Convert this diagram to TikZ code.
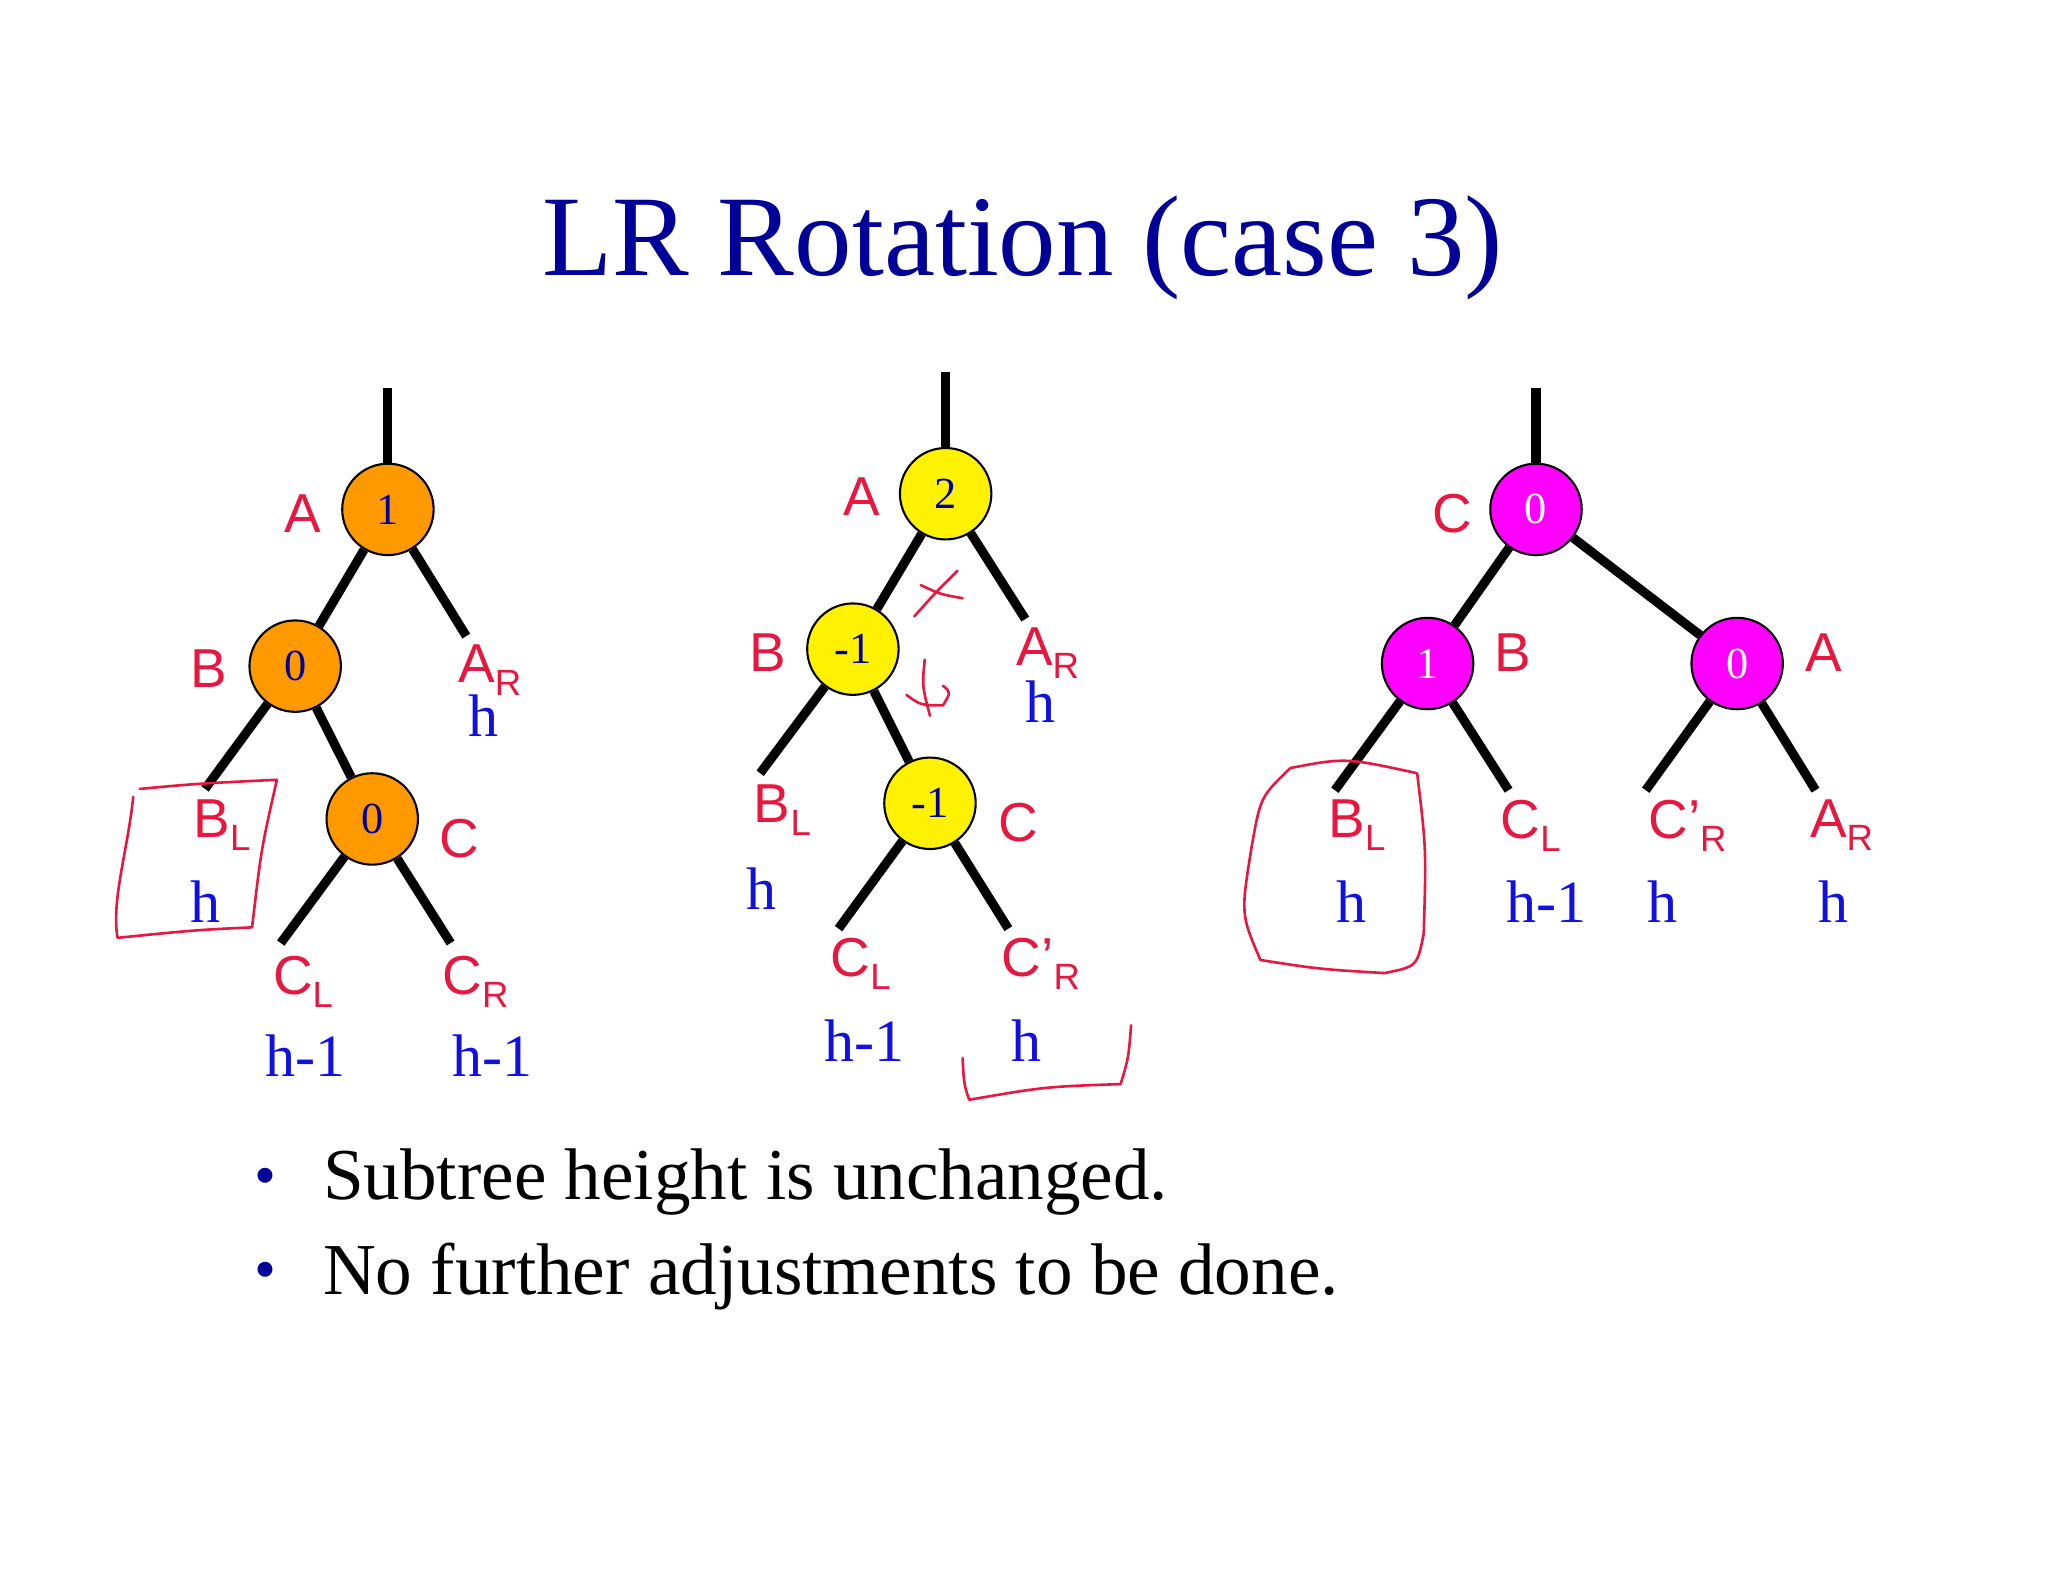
\documentclass[tikz,border=0pt]{standalone}
\usepackage{fontspec}
\setmainfont{Liberation Serif}
\newfontfamily\lab{Liberation Sans}
\definecolor{tred}{HTML}{E8173F}
\definecolor{tblue}{HTML}{1010E0}
\definecolor{navy}{HTML}{000099}
\definecolor{orng}{HTML}{FF9900}
\definecolor{mag}{HTML}{FF00FF}
\newcommand{\lsub}[1]{\raisebox{-0.45ex}{\fontsize{14}{14}\selectfont #1}}
\begin{document}
\begin{tikzpicture}[x=0.5pt,y=-0.5pt,
  nd/.style={circle,draw=black,line width=0.8pt,minimum size=35pt,inner sep=0pt,font=\fontsize{17}{17}\selectfont,text=navy},
  edge/.style={line width=3.5pt},
  lb/.style={text=tred,font=\lab\fontsize{21}{21}\selectfont,inner sep=0pt},
  hb/.style={text=tblue,font=\fontsize{23}{23}\selectfont,inner sep=0pt},
  hand/.style={draw=tred,line width=1pt,line join=round,line cap=round}]
\useasboundingbox (0,0) rectangle (1568,1211);
\node[text=navy,font=\fontsize{44}{44}\selectfont] (title) at (783,190) {LR Rotation (case 3)};
% tree 1
\coordinate (t1) at (297,297);
\node[nd,fill=orng] (A1) at (297,390) {1};
\node[nd,fill=orng] (B1) at (226,510) {0};
\node[nd,fill=orng] (C1) at (285,627) {0};
\coordinate (ar1) at (357,487); \coordinate (bl1) at (157,604);
\coordinate (cl1) at (215,722); \coordinate (cr1) at (345,722);
\draw[edge] (t1)--(A1); \draw[edge] (A1)--(B1); \draw[edge] (A1)--(ar1);
\draw[edge] (B1)--(bl1); \draw[edge] (B1)--(C1); \draw[edge] (C1)--(cl1); \draw[edge] (C1)--(cr1);
\node[lb] (la1) at (232,393) {A}; \node[lb] (lb1) at (160,512) {B}; \node[lb] (lc1) at (352,642) {C};
\node[lb] (lar1) at (375,513) {A\lsub{R}}; \node[hb] (har1) at (370,548) {h};
\node[lb] (lbl1) at (170,632) {B\lsub{L}}; \node[hb] (hbl1) at (157,690) {h};
\node[lb] (lcl1) at (232,752) {C\lsub{L}}; \node[hb] (hcl1) at (234,808) {h-1};
\node[lb] (lcr1) at (364,752) {C\lsub{R}}; \node[hb] (hcr1) at (377,808) {h-1};
\draw[hand] (107,604) .. controls (150,600) .. (212,597) .. controls (200,650) .. (193,710) .. controls (150,712) .. (90,718) .. controls (85,690) and (98,650) .. (102,610);
% tree 2
\coordinate (t2) at (724,285);
\node[nd,fill=yellow] (A2) at (724,378) {2};
\node[nd,fill=yellow] (B2) at (653,497) {-1};
\node[nd,fill=yellow] (C2) at (712,615) {-1};
\coordinate (ar2) at (785,474); \coordinate (bl2) at (582,592);
\coordinate (cl2) at (642,711); \coordinate (cr2) at (772,711);
\draw[edge] (t2)--(A2); \draw[edge] (A2)--(B2); \draw[edge] (A2)--(ar2);
\draw[edge] (B2)--(bl2); \draw[edge] (B2)--(C2); \draw[edge] (C2)--(cl2); \draw[edge] (C2)--(cr2);
\node[lb] (la2) at (660,380) {A}; \node[lb] (lb2) at (588,500) {B}; \node[lb] (lc2) at (780,630) {C};
\node[lb] (lar2) at (802,500) {A\lsub{R}}; \node[hb] (har2) at (797,537) {h};
\node[lb] (lbl2) at (599,620) {B\lsub{L}}; \node[hb] (hbl2) at (583,680) {h};
\node[lb] (lcl2) at (659,738) {C\lsub{L}}; \node[hb] (hcl2) at (662,797) {h-1};
\node[lb] (lcr2) at (797,738) {C’\lsub{R}}; \node[hb] (hcr2) at (786,797) {h};
\draw[hand] (700,472) .. controls (715,455) .. (733,437) (705,448) .. controls (720,455) .. (737,458);
\draw[hand] (708,505) .. controls (706,525) .. (712,548) (694,532) .. controls (705,540) .. (722,540) .. controls (728,530) .. (722,525);
\draw[hand] (737,810) .. controls (738,830) .. (742,842) .. controls (800,832) .. (858,830) .. controls (864,810) .. (866,785);
% tree 3
\coordinate (t3) at (1176,297);
\node[nd,fill=mag,text=white] (A3) at (1176,390) {0};
\node[nd,fill=mag,text=white] (B3) at (1093,508) {1};
\node[nd,fill=mag,text=white] (C3) at (1330,508) {0};
\coordinate (bl3) at (1022,605); \coordinate (cl3) at (1155,605);
\coordinate (cr3) at (1260,605); \coordinate (ar3) at (1390,605);
\draw[edge] (t3)--(A3); \draw[edge] (A3)--(B3); \draw[edge] (A3)--(C3);
\draw[edge] (B3)--(bl3); \draw[edge] (B3)--(cl3); \draw[edge] (C3)--(cr3); \draw[edge] (C3)--(ar3);
\node[lb] (la3) at (1112,393) {C}; \node[lb] (lb3) at (1158,500) {B}; \node[lb] (lc3) at (1396,500) {A};
\node[lb] (lbl3) at (1039,632) {B\lsub{L}}; \node[hb] (hbl3) at (1035,690) {h};
\node[lb] (lcl3) at (1172,632) {C\lsub{L}}; \node[hb] (hcl3) at (1184,690) {h-1};
\node[lb] (lcr3) at (1292,632) {C’\lsub{R}}; \node[hb] (hcr3) at (1273,690) {h};
\node[lb] (lar3) at (1410,632) {A\lsub{R}}; \node[hb] (har3) at (1404,690) {h};
\draw[hand] (988,588) .. controls (1030,580) .. (1085,592) .. controls (1092,650) .. (1090,715) .. controls (1085,740) .. (1060,745) .. controls (1010,742) .. (965,735) .. controls (950,700) .. (958,650) .. controls (965,610) .. (988,588);
% bullets
\node[text=navy,font=\fontsize{24}{24}\selectfont] (b1) at (203,905) {•};
\node[anchor=west,font=\fontsize{28}{28}\selectfont,inner sep=0pt] (s1) at (247,905) {Subtree height is unchanged.};
\node[text=navy,font=\fontsize{24}{24}\selectfont] (b2) at (203,977) {•};
\node[anchor=west,font=\fontsize{28}{28}\selectfont,inner sep=0pt] (s2) at (247,977) {No further adjustments to be done.};
\end{tikzpicture}
\end{document}
